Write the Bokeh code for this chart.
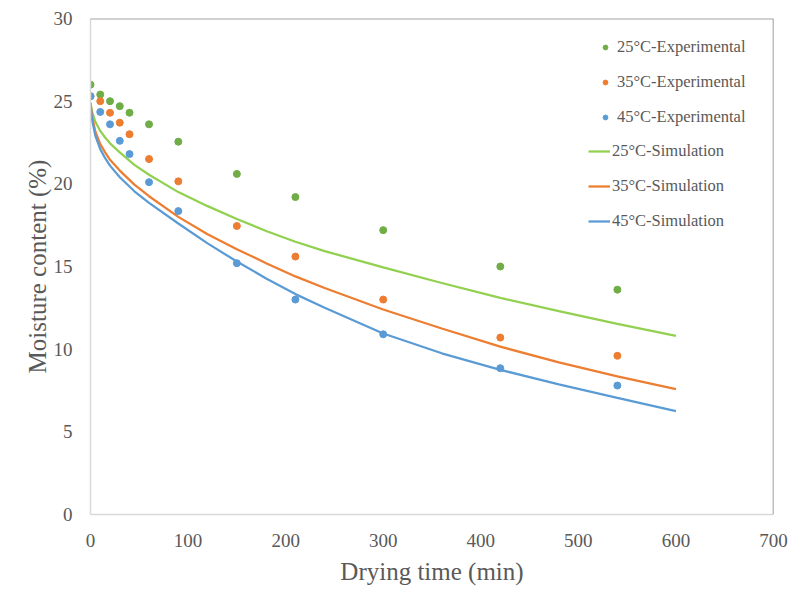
from bokeh.plotting import figure
from bokeh.models import Span, Legend, LegendItem, FixedTicker, Range1d
from bokeh.embed import file_html
from bokeh.resources import INLINE

# Experimental data
t_exp = [0, 10, 20, 30, 40, 60, 90, 150, 210, 300, 420, 540]
exp25 = [26.0, 25.4, 25.0, 24.7, 24.3, 23.6, 22.55, 20.6, 19.2, 17.2, 15.0, 13.6]
exp35 = [25.3, 25.0, 24.3, 23.7, 23.0, 21.5, 20.15, 17.45, 15.6, 13.0, 10.7, 9.6]
exp45 = [25.3, 24.35, 23.6, 22.6, 21.8, 20.1, 18.35, 15.2, 13.0, 10.9, 8.85, 7.8]

# Simulation curves
t_sim = [0, 1, 2, 5, 10, 15, 20, 30, 45, 60, 90, 120, 150, 180, 210, 240, 300, 360, 420, 480, 540, 600]
sim25 = [24.9, 24.55, 24.3, 23.75, 23.2, 22.8, 22.45, 21.9, 21.15, 20.55, 19.5, 18.65, 17.87, 17.15, 16.5, 15.93, 14.95, 14.0, 13.1, 12.3, 11.53, 10.8]
sim35 = [24.9, 24.35, 24.0, 23.15, 22.4, 21.9, 21.45, 20.8, 19.95, 19.25, 18.0, 16.95, 16.05, 15.2, 14.4, 13.7, 12.4, 11.25, 10.15, 9.2, 8.35, 7.58]
sim45 = [24.9, 24.2, 23.75, 22.9, 22.1, 21.55, 21.1, 20.4, 19.55, 18.85, 17.6, 16.4, 15.3, 14.28, 13.33, 12.5, 10.95, 9.75, 8.75, 7.87, 7.05, 6.25]

x_ticks = [0, 100, 200, 300, 400, 500, 600, 700]
y_ticks = [0, 5, 10, 15, 20, 25, 30]

labels_exp = ["25°C-Experimental", "35°C-Experimental", "45°C-Experimental"]
labels_sim = ["25°C-Simulation", "35°C-Simulation", "45°C-Simulation"]

c_g, c_o, c_b = "#70ad47", "#ed7d31", "#5b9bd5"
c_gl = "#92d050"

FONT = "Liberation Serif"
TXT = "#595959"

p = figure(width=788, height=587, output_backend="svg", toolbar_location=None,
           x_range=Range1d(0, 700), y_range=Range1d(0, 30),
           min_border_left=90, min_border_right=15, min_border_top=18, min_border_bottom=70)
p.outline_line_color = None
p.xgrid.visible = False
p.ygrid.visible = False

for ax, ticks in ((p.xaxis, x_ticks), (p.yaxis, y_ticks)):
    ax.ticker = FixedTicker(ticks=ticks)
    ax.major_tick_line_color = None
    ax.minor_tick_line_color = None
    ax.axis_line_color = "#d9d9d9"
    ax.axis_line_width = 1.5
    ax.major_label_text_font = FONT
    ax.major_label_text_font_size = "19px"
    ax.major_label_text_color = TXT
    ax.axis_label_text_font = FONT
    ax.axis_label_text_font_size = "25px"
    ax.axis_label_text_font_style = "normal"
    ax.axis_label_text_color = TXT

p.xaxis.axis_label = "Drying time (min)"
p.yaxis.axis_label = "Moisture content (%)"
p.xaxis.major_label_standoff = 13
p.yaxis.major_label_standoff = 12
p.xaxis.axis_label_standoff = 8
p.yaxis.axis_label_standoff = 0

p.add_layout(Span(location=30, dimension="width", line_color="#a6a6a6", line_width=2))
p.add_layout(Span(location=700, dimension="height", line_color="#7f7f7f", line_width=1.5))

r_sg = p.line(t_sim, sim25, line_color=c_gl, line_width=2.25)
r_so = p.line(t_sim, sim35, line_color=c_o, line_width=2.25)
r_sb = p.line(t_sim, sim45, line_color=c_b, line_width=2.25)

r_eg = p.scatter(t_exp, exp25, size=7, fill_color=c_g, line_color=c_g)
r_eo = p.scatter(t_exp, exp35, size=7, fill_color=c_o, line_color=c_o)
r_eb = p.scatter(t_exp, exp45, size=7, fill_color=c_b, line_color=c_b)

common = dict(border_line_color=None, background_fill_alpha=0, padding=0, margin=0,
              spacing=15, glyph_height=20, label_height=20,
              label_text_font=FONT, label_text_font_size="16.5px", label_text_color=TXT)

legend_exp = Legend(items=[LegendItem(label=labels_exp[i], renderers=[r])
                           for i, r in enumerate([r_eg, r_eo, r_eb])],
                    location=(509, 387), glyph_width=12, label_standoff=6, **common)
legend_sim = Legend(items=[LegendItem(label=labels_sim[i], renderers=[r])
                           for i, r in enumerate([r_sg, r_so, r_sb])],
                    location=(498, 283), glyph_width=22, label_standoff=2, **common)
p.add_layout(legend_exp, "center")
p.add_layout(legend_sim, "center")

open("out.html", "w").write(file_html(p, INLINE))
